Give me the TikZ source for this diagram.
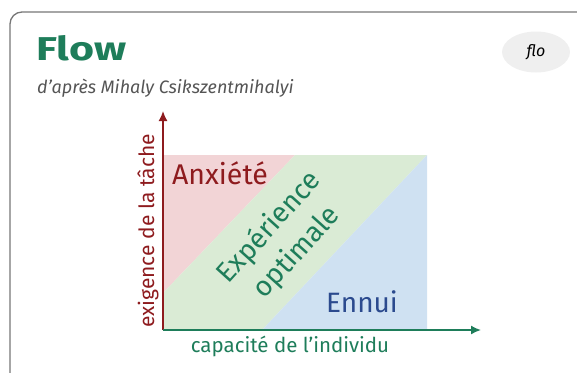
\documentclass[tikz,border=0pt]{standalone}
\usepackage{fontspec}
\setmainfont{Fira Sans}
\usetikzlibrary{arrows.meta,shapes.geometric}
\definecolor{FlowGreen}{HTML}{1E7D5A}
\definecolor{FlowRed}{HTML}{8E1B1E}
\definecolor{FlowBlue}{HTML}{2B4A8E}
\definecolor{FlowGrey}{HTML}{555555}
\definecolor{FlowRedFill}{HTML}{F2D4D6}
\definecolor{FlowGreenFill}{HTML}{DAEBD5}
\definecolor{FlowBlueFill}{HTML}{CFE1F2}
\definecolor{FlowPill}{HTML}{EFEFEF}

\begin{document}
\begin{tikzpicture}[x=1pt,y=-1pt]
    \useasboundingbox (0,0) rectangle (577,372);
    \clip (0,0) rectangle (577,372);

    % card
    \draw[FlowGrey!80, line width=1.3pt, rounded corners=12pt] (10,12) rectangle (592,392);

    \node[anchor=base west, inner sep=0pt, text=FlowGreen, font=\fontsize{33}{33}\selectfont\bfseries\addfontfeatures{FakeStretch=1.3}] (title) at (36,60) {Flow};
    \node[anchor=base west, inner sep=0pt, text=FlowGrey, font=\fontsize{18}{18}\selectfont\itshape] (subtitle) at (37,93) {d’après Mihaly Csikszentmihalyi};
    \node[ellipse, fill=FlowPill, minimum width=68pt, minimum height=41pt, font=\fontsize{16}{16}\selectfont\itshape] (tag) at (536,52) {flo};

    % zones
    \fill[FlowRedFill] (163,155) -- (295,155) -- (163,293) -- cycle;
    \fill[FlowGreenFill] (295,155) -- (427,155) -- (262,330) -- (163,330) -- (163,293) -- cycle;
    \fill[FlowBlueFill] (427,155) -- (427,330) -- (262,330) -- cycle;

    % axes
    \coordinate (origin) at (163,330);
    \coordinate (ytip) at (163,111);
    \coordinate (xtip) at (481,330);
    \draw[FlowRed, line width=1.6pt, -{Latex[length=10pt,width=9pt]}] (origin) -- (ytip);
    \draw[FlowGreen, line width=1.6pt, -{Latex[length=10pt,width=9pt]}] (origin) -- (xtip);

    \node[rotate=90, text=FlowRed, font=\fontsize{21}{21}\selectfont] (ylabel) at (148,231) {exigence de la tâche};
    \node[text=FlowGreen, font=\fontsize{20.5}{21}\selectfont] (xlabel) at (290,346) {capacité de l’individu};

    \node[text=FlowRed, font=\fontsize{28.5}{28}\selectfont] (anxiety) at (220,173) {Anxiété};
    \node[text=FlowBlue, font=\fontsize{28}{28}\selectfont] (boredom) at (362,302) {Ennui};
    \node[rotate=48, text=FlowGreen, align=center, font=\fontsize{28}{37}\selectfont] (flowzone) at (283,240) {Expérience\\optimale};
  \end{tikzpicture}
\end{document}
